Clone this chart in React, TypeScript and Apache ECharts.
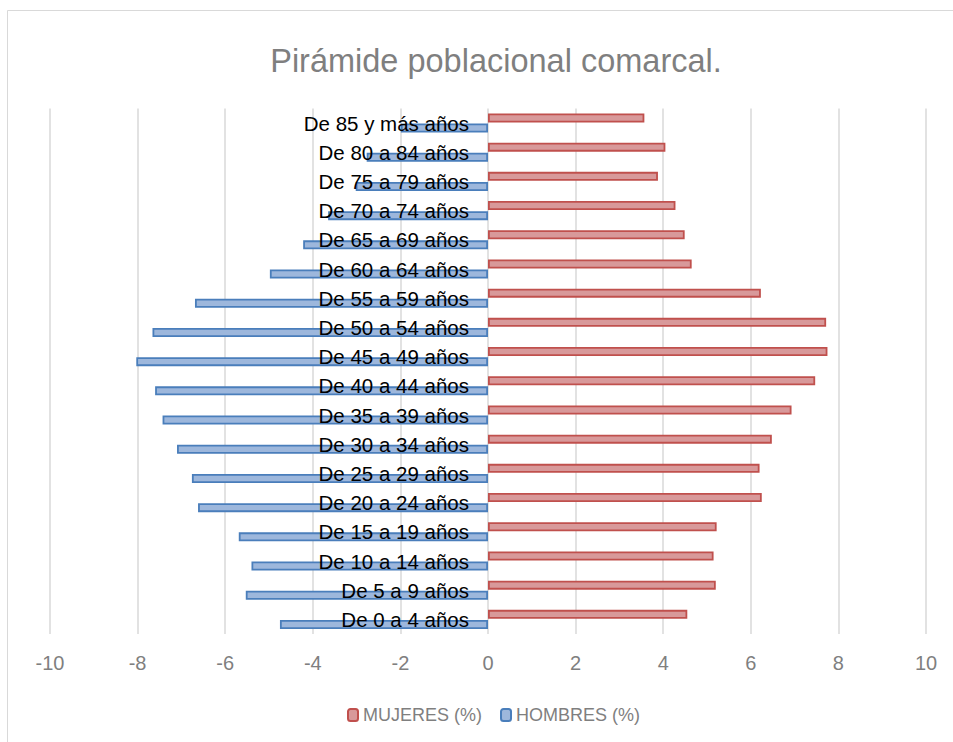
import React, { useEffect, useRef } from "react";
import * as echarts from "echarts";

const categories = [
  "De 0 a 4 años",
  "De 5 a 9 años",
  "De 10 a 14 años",
  "De 15 a 19 años",
  "De 20 a 24 años",
  "De 25 a 29 años",
  "De 30 a 34 años",
  "De 35 a 39 años",
  "De 40 a 44 años",
  "De 45 a 49 años",
  "De 50 a 54 años",
  "De 55 a 59 años",
  "De 60 a 64 años",
  "De 65 a 69 años",
  "De 70 a 74 años",
  "De 75 a 79 años",
  "De 80 a 84 años",
  "De 85 y más años",
];

const mujeres = [4.55, 5.2, 5.15, 5.22, 6.25, 6.2, 6.48, 6.93, 7.47, 7.75, 7.72, 6.23, 4.65, 4.49, 4.28, 3.88, 4.05, 3.57];
const hombres = [-4.75, -5.53, -5.4, -5.69, -6.62, -6.76, -7.1, -7.43, -7.6, -8.03, -7.66, -6.69, -4.98, -4.22, -3.65, -3.02, -2.77, -1.99];

const seriesNames = ["MUJERES (%)", "HOMBRES (%)"];
const titleText = "Pirámide poblacional comarcal.";

const FONT = "'Liberation Sans', Arial, sans-serif";

export default function App() {
  const ref = useRef<HTMLDivElement>(null);
  useEffect(() => {
    if (!ref.current) return;
    const chart = echarts.init(ref.current, null, { renderer: "svg" });
    chart.setOption({
      animation: false,
      backgroundColor: "#ffffff",
      title: {
        text: titleText,
        left: 491,
        top: 39,
        textAlign: "center",
        textStyle: { color: "#7f7f7f", fontSize: 32.5, fontWeight: "normal", fontFamily: FONT },
      },
      graphic: [
        {
          type: "rect",
          shape: { x: 7.5, y: 10.5, width: 1000, height: 1000 },
          style: { fill: "none", stroke: "#d9d9d9", lineWidth: 1 },
          silent: true,
        },
      ],
      legend: {
        data: seriesNames,
        left: 342,
        top: 701,
        itemWidth: 10,
        itemHeight: 12,
        itemGap: 18,
        textStyle: { color: "#7f7f7f", fontSize: 18, fontFamily: FONT },
      },
      grid: { left: 50, right: 27, top: 108.4, height: 525.6, outerBoundsMode: "none", containLabel: false },
      xAxis: {
        type: "value",
        min: -10,
        max: 10,
        interval: 2,
        axisLine: { show: false },
        axisTick: { show: false },
        splitLine: { show: true, lineStyle: { color: "#d9d9d9", width: 1.5 } },
        axisLabel: { color: "#7f7f7f", fontSize: 20, fontFamily: FONT, margin: 19 },
      },
      yAxis: {
        type: "category",
        data: categories,
        z: 10,
        position: "left",
        offset: -438,
        axisLine: { show: false, onZero: false },
        axisTick: { show: false },
        axisLabel: { color: "#000000", fontSize: 20.5, fontFamily: FONT, margin: 19, interval: 0 },
      },
      series: [
        {
          name: seriesNames[0],
          type: "bar",
          data: mujeres,
          barWidth: 9,
          barGap: "12%",
          itemStyle: { color: "#d8999a", borderColor: "#c0504d", borderWidth: 1.8 },
        },
        {
          name: seriesNames[1],
          type: "bar",
          data: hombres,
          barWidth: 9,
          itemStyle: { color: "#9db7dc", borderColor: "#4a7ebb", borderWidth: 1.8 },
        },
      ],
    });
    return () => chart.dispose();
  }, []);
  return <div ref={ref} style={{ position: "absolute", left: 0, top: 0, width: 953, height: 742 }} />;
}
